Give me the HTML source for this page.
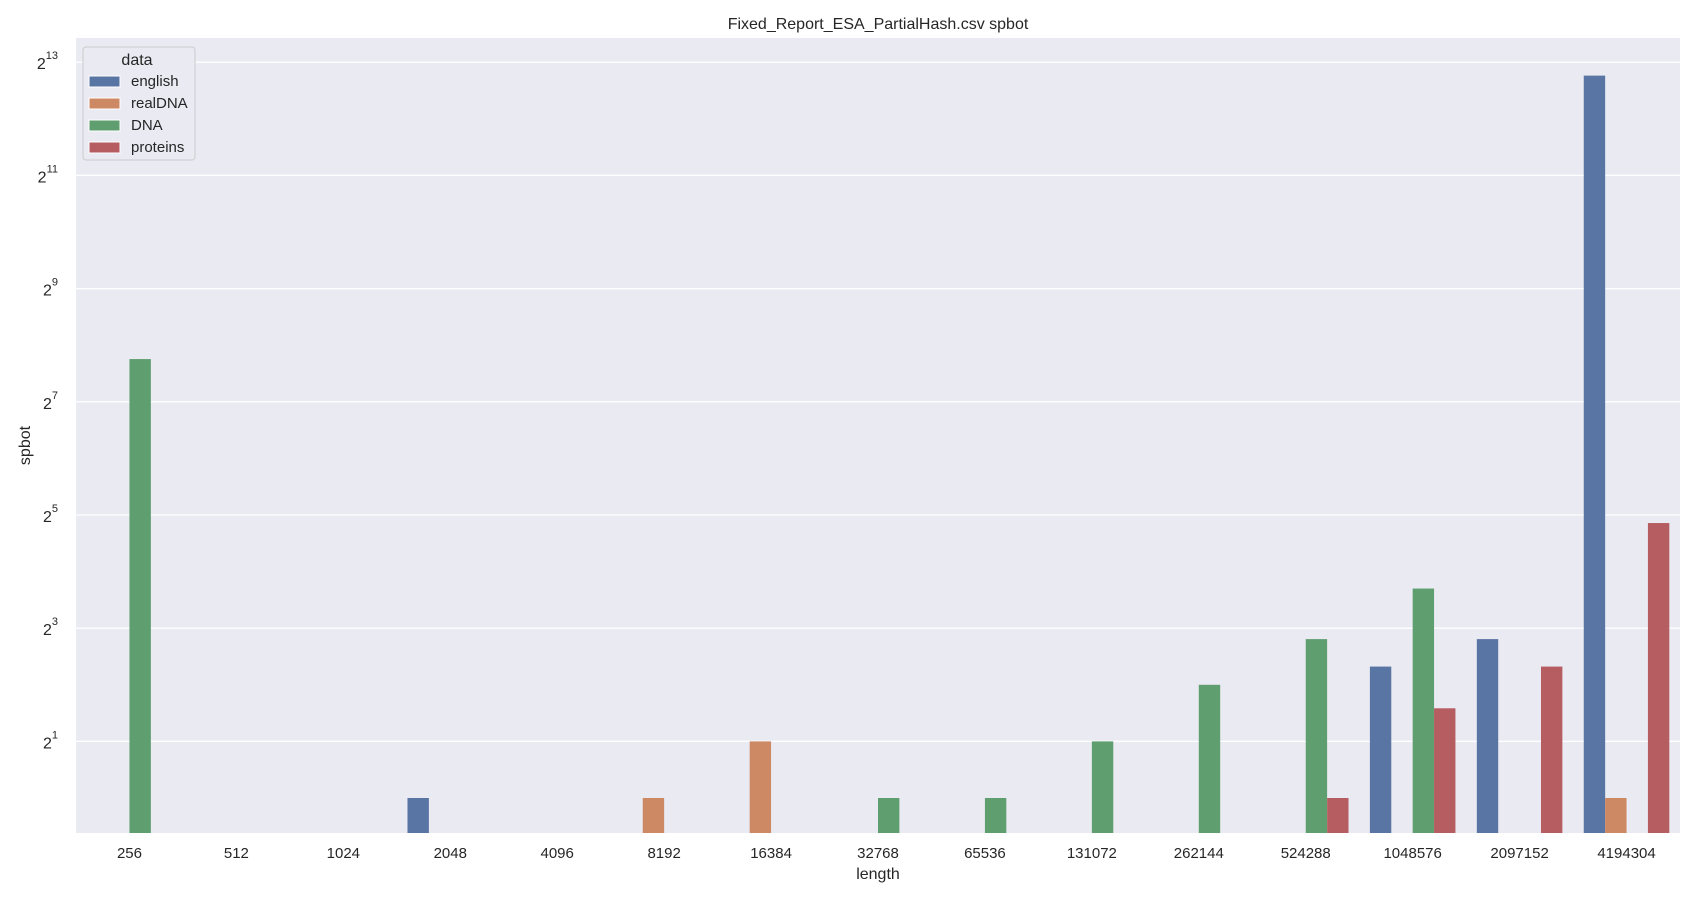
<!DOCTYPE html>
<html><head><meta charset="utf-8"><style>
body{margin:0;background:#fff;font-family:"Liberation Sans","DejaVu Sans",sans-serif;}
</style></head><body>
<svg id="chart" width="1700" height="900" xmlns="http://www.w3.org/2000/svg" font-family="Liberation Sans, DejaVu Sans, sans-serif"></svg>
<script>
const categories=["256","512","1024","2048","4096","8192","16384","32768","65536","131072","262144","524288","1048576","2097152","4194304"];
const seriesNames=["english","realDNA","DNA","proteins"];
const english=[null,null,null,1,null,null,null,null,null,null,null,null,5,7,6950];
const realDNA=[null,null,null,null,null,1,2,null,null,null,null,null,null,null,1];
const dna=[216,null,null,null,null,null,null,1,1,2,4,7,13,null,null];
const proteins=[null,null,null,null,null,null,null,null,null,null,null,1,3,5,29];
const yTicks=[1,3,5,7,9,11,13];
const series=[english,realDNA,dna,proteins];
const colors=["#5875a4","#cc8963","#5f9e6e","#b55d60"];
const NS="http://www.w3.org/2000/svg";
const svg=document.getElementById('chart');
const L=76,R=1680,T=38,B=833;
const y0=798,pp=56.6;
function yScale(v){return y0-Math.log2(v)*pp;}
const step=(R-L)/categories.length;
function xCenter(i){return L+step*(i+0.5);}
function mk(tag,attrs,parent){const e=document.createElementNS(NS,tag);for(const k in attrs)e.setAttribute(k,attrs[k]);(parent||svg).appendChild(e);return e;}
const bg=mk('rect',{x:L,y:T,width:R-L,height:B-T,fill:'#eaeaf2'});


yTicks.forEach(p=>{
  const y=yScale(Math.pow(2,p));
  const g=mk('line',{x1:L,x2:R,y1:y,y2:y,stroke:'#fff','stroke-width':1.3});
  
  
  const t=mk('text',{x:L-18,y:y+7,'text-anchor':'end','font-size':16,fill:'#262626'});
  
  
  t.textContent='2';
  const s=mk('tspan',{dy:-10,'font-size':11},t);s.textContent=String(p);
});
const bw=step*0.8/4;
series.forEach((arr,si)=>{
  arr.forEach((v,i)=>{
    if(v==null)return;
    const x=xCenter(i)-step*0.4+si*bw;
    const y=yScale(v);
    const r=mk('rect',{x:x,y:y,width:bw,height:B-y,fill:colors[si]});
    
    
  });
});
categories.forEach((c,i)=>{
  const t=mk('text',{x:xCenter(i),y:858,'text-anchor':'middle','font-size':15,fill:'#262626'});
  
  
  t.textContent=c;
});
const xt=mk('text',{x:(L+R)/2,y:879,'text-anchor':'middle','font-size':16,fill:'#262626'});


xt.textContent='length';
const yc=(T+B)/2+10;
const yt=mk('text',{x:30,y:yc,'text-anchor':'middle','font-size':16,fill:'#262626',transform:'rotate(-90 30 '+yc+')'});


yt.textContent='spbot';
const tt=mk('text',{x:(L+R)/2,y:29,'text-anchor':'middle','font-size':16,fill:'#262626'});


tt.textContent='Fixed_Report_ESA_PartialHash.csv spbot';
const lg=mk('g',{});


mk('rect',{x:83,y:47,width:112,height:113,rx:3,fill:'#eaeaf2',stroke:'#cccccc','stroke-width':1},lg);
const lt=mk('text',{x:137,y:65,'text-anchor':'middle','font-size':16,fill:'#262626'},lg);
lt.textContent='data';
seriesNames.forEach((n,i)=>{
  const y=81+i*22;
  const e=mk('g',{},lg);
  
  
  mk('rect',{x:89,y:y-5,width:31,height:11,fill:colors[i],stroke:'#fff','stroke-width':1},e);
  const t=mk('text',{x:131,y:y+5,'font-size':15,fill:'#262626'},e);
  t.textContent=n;
});
</script>
</body></html>
